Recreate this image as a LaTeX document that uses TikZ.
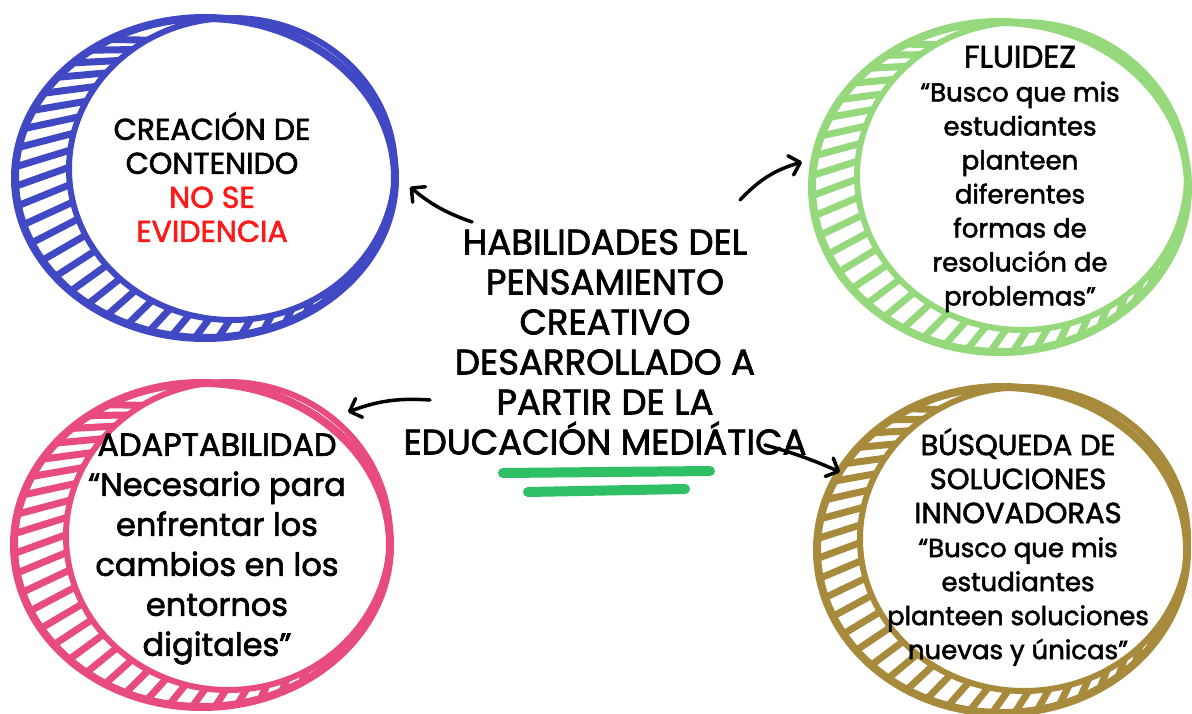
\documentclass[tikz,border=0pt]{standalone}
\usepackage{fontspec}
\setmainfont{Poppins}[FakeBold=2]
\usetikzlibrary{arrows.meta,calc}
\definecolor{cblue}{HTML}{4048C4}
\definecolor{cgreen}{HTML}{96D87C}
\definecolor{cpink}{HTML}{E84C7E}
\definecolor{cgold}{HTML}{A88A3C}
\definecolor{cbar}{HTML}{2FBF64}
\definecolor{cred}{HTML}{FF1A1A}
\newcommand\mycoin[9]{%
  \begin{scope}
    \clip (#2,#3) ellipse [x radius=#4, y radius=#5];
    \begin{scope}[even odd rule]
    \clip (-50,-50) rectangle (1250,770) (#6,#7) ellipse [x radius=#8, y radius=#9];
    \coordinate (F) at ({#2+1.1*#4},{#3-0.83*#5});
    \foreach \t in {30,37,...,240}{
      \coordinate (P) at ({#2+#4*cos(\t)},{#3+#5*sin(\t)});
      \draw[#1,line width=7pt] (P) -- ($(P)!90pt!(F)$);
    }
    \end{scope}
  \end{scope}
  \draw[#1,line width=8pt] (#2,#3) ellipse [x radius=#4, y radius=#5];
  \draw[#1,line width=6pt] (#6,#7) ellipse [x radius=#8, y radius=#9];
}
\tikzset{
  circtxt/.style={align=center, font=\fontsize{26}{34}\selectfont, inner sep=0pt},
  maintxt/.style={align=center, font=\fontsize{35.5}{40}\selectfont, inner sep=0pt},
  arr/.style={line width=3.5pt, line cap=round,
    -{Straight Barb[length=10pt,width=20pt,line width=3.5pt,round]}},
  bar/.style={cbar, line width=10pt, line cap=round}
}
\begin{document}
\begin{tikzpicture}[x=1pt,y=-1pt]
\useasboundingbox[fill=white] (0,0) rectangle (1192,714);

\mycoin{cblue}{205}{178}{190}{160}{232}{169}{163}{151}
\mycoin{cgreen}{1000}{187}{188}{165}{1022}{176}{165}{154}
\mycoin{cpink}{202}{545}{188}{162}{228}{536}{162}{154}
\mycoin{cgold}{1002}{550}{185}{163}{1024}{539}{164}{152}

\node[circtxt, font=\fontsize{30}{34}\selectfont] (tb) at (212,177) {CREACIÓN DE\\CONTENIDO\\\textcolor{cred}{NO SE}\\\textcolor{cred}{EVIDENCIA}};
\node[circtxt] (tg) at (1020,179) {{\fontsize{31}{34}\selectfont FLUIDEZ}\\“Busco que mis\\estudiantes\\planteen\\diferentes\\formas de\\resolución de\\problemas”};
\node[circtxt, font=\fontsize{32}{40}\selectfont] (tp) at (217,549) {ADAPTABILIDAD\\“Necesario para\\enfrentar los\\cambios en los\\entornos\\digitales”};
\node[circtxt] (to) at (1018,547) {{\fontsize{29}{34}\selectfont BÚSQUEDA DE}\\{\fontsize{29}{34}\selectfont SOLUCIONES}\\{\fontsize{29}{34}\selectfont INNOVADORAS}\\“Busco que mis\\estudiantes\\planteen soluciones\\nuevas y únicas”};

\node[maintxt] (c) at (605,342) {HABILIDADES DEL\\PENSAMIENTO\\CREATIVO\\DESARROLLADO A\\PARTIR DE LA\\EDUCACIÓN MEDIÁTICA};

\coordinate (sb) at (472,222); \coordinate (eb) at (410,187);
\coordinate (sg) at (740,200); \coordinate (eg) at (802,162);
\coordinate (sp) at (430,400); \coordinate (ep) at (348,412);
\coordinate (so) at (765,445); \coordinate (eo) at (840,472);
\draw[arr] (sb) to[bend left=10] (eb);
\draw[arr] (sg) to[bend left=15] (eg);
\draw[arr] (sp) to[bend right=12] (ep);
\draw[arr] (so) to[bend left=4] (eo);

\coordinate (b1a) at (503,473); \coordinate (b1b) at (710,471);
\coordinate (b2a) at (528,492); \coordinate (b2b) at (685,489);
\draw[bar] (b1a) -- (b1b);
\draw[bar] (b2a) -- (b2b);
\end{tikzpicture}
\end{document}
